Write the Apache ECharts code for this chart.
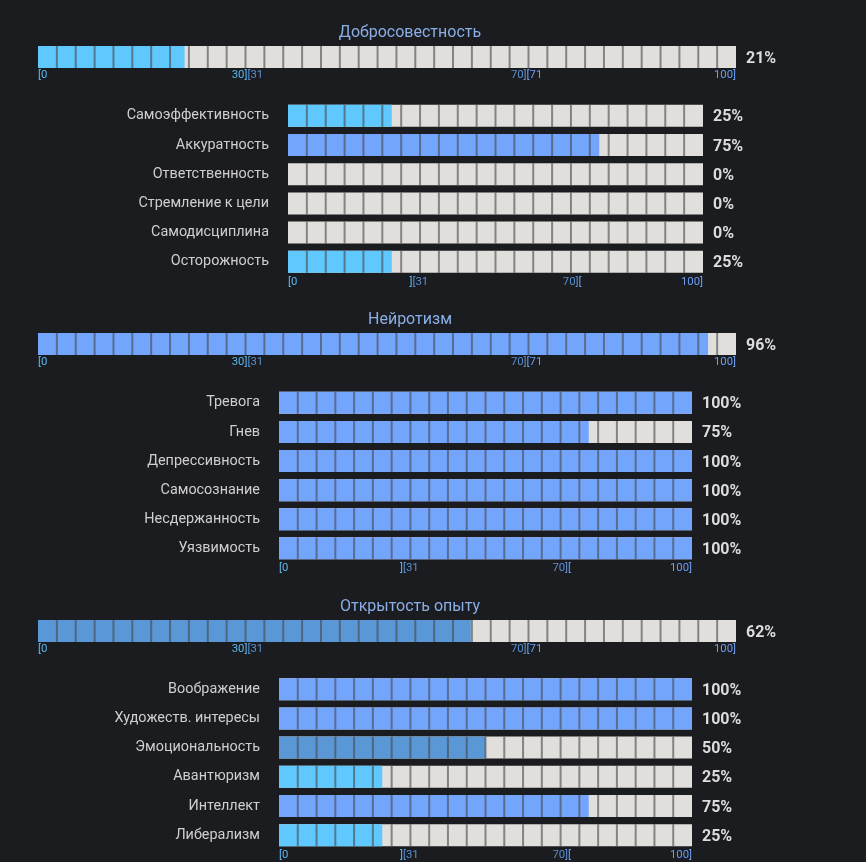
<!DOCTYPE html>
<html>
<head>
<meta charset="utf-8">
<title>Big Five</title>
<script src="https://cdn.jsdelivr.net/npm/echarts@6/dist/echarts.min.js"></script>
<style>
    html, body { margin: 0; padding: 0; background: #1b1c1f; }
    #main { width: 866px; height: 862px; }
</style>
</head>
<body>
<div id="main"></div>
<script>
// данные
var groupTitles = ['Добросовестность', 'Нейротизм', 'Открытость опыту'];
var groupValues = [21, 96, 62];

var cFacets = ['Самоэффективность', 'Аккуратность', 'Ответственность', 'Стремление к цели', 'Самодисциплина', 'Осторожность'];
var cValues = [25, 75, 0, 0, 0, 25];
var nFacets = ['Тревога', 'Гнев', 'Депрессивность', 'Самосознание', 'Несдержанность', 'Уязвимость'];
var nValues = [100, 75, 100, 100, 100, 100];
var oFacets = ['Воображение', 'Художеств. интересы', 'Эмоциональность', 'Авантюризм', 'Интеллект', 'Либерализм'];
var oValues = [100, 100, 50, 25, 75, 25];

// границы диапазонов и подписи под шкалой
var tickValues = [0, 30, 70, 100];
var mainTickEnd = ['', '30]', '70]', '100]'];
var mainTickStart = ['[0', '[31', '[71', ''];
var subTickEnd = ['', ']', '70]', '100]'];
var subTickStart = ['[0', '[31', '[', ''];

var rangeColors = ['#5fc8fe', '#5a97d6', '#74a5fd'];
var tickEndColors = ['#5ab8f0', '#5ab8f0', '#5a90d2', '#6c9ff5'];
var tickStartColors = ['#5ab8f0', '#5a90d2', '#6c9ff5', '#6c9ff5'];

function colorFor(v) {
    if (v <= 30) return rangeColors[0];
    if (v <= 70) return rangeColors[1];
    return rangeColors[2];
}

var myChart = echarts.init(document.getElementById('main'));

var grids = [], xAxes = [], yAxes = [], series = [], titles = [];

// один блок шкалы: grid + две оси для подписей + custom серия
function addBlock(box, cats, values, tickEnd, tickStart, showCats, labelMargin) {
    var gi = grids.length;
    grids.push({ left: box.left, top: box.top, width: box.width, height: box.height });

    function tickAxis(texts, colors, align) {
        return {
            type: 'value', gridIndex: gi, min: 0, max: 100, interval: 10,
            position: 'bottom',
            axisLine: { show: false }, axisTick: { show: false }, splitLine: { show: false },
            axisLabel: {
                align: align, margin: labelMargin, fontSize: 11.3, fontFamily: 'Roboto',
                showMinLabel: true, showMaxLabel: true,
                formatter: function (v) {
                    var i = tickValues.indexOf(Number(v));
                    return i < 0 ? '' : texts[i];
                },
                color: function (v) {
                    var i = tickValues.indexOf(Number(v));
                    return i < 0 ? '#000' : colors[i];
                }
            }
        };
    }
    var xi = xAxes.length;
    xAxes.push(tickAxis(tickEnd, tickEndColors, 'right'));
    xAxes.push(tickAxis(tickStart, tickStartColors, 'left'));

    var yi = yAxes.length;
    yAxes.push({
        type: 'category', gridIndex: gi, data: cats, inverse: true,
        axisLine: { show: false }, axisTick: { show: false }, splitLine: { show: false },
        axisLabel: {
            show: showCats, color: '#cfcfcf', fontSize: 14.4, fontFamily: 'Roboto',
            margin: 19, padding: [3, 0, 0, 0]
        }
    });

    var data = values.map(function (v, i) { return [v, i]; });
    series.push({
        type: 'custom', xAxisIndex: xi, yAxisIndex: yi, data: data,
        encode: { x: 0, y: 1 },
        renderItem: function (params, api) {
            var v = api.value(0);
            var c = api.value(1);
            var p0 = api.coord([0, c]);
            var x1 = api.coord([100, c])[0];
            var xv = api.coord([v, c])[0];
            var h = 22;
            var y = p0[1] - h / 2;
            var w = x1 - p0[0];
            var n = Math.round(w / 19);
            var kids = [
                { type: 'rect', shape: { x: p0[0], y: y, width: w, height: h }, style: { fill: '#e1dfdb' } },
                { type: 'rect', shape: { x: p0[0], y: y, width: xv - p0[0], height: h }, style: { fill: colorFor(v) } }
            ];
            for (var k = 1; k < n; k++) {
                var lx = p0[0] + k * w / n;
                kids.push({
                    type: 'rect', shape: { x: lx - 1, y: y, width: 2, height: h },
                    style: { fill: 'rgba(70,70,70,0.6)' }
                });
            }
            kids.push({
                type: 'text',
                style: {
                    text: v + '%', x: x1 + 10, y: p0[1] + 1.5,
                    fill: '#dcdcdc', font: 'bold 16px Roboto',
                    textAlign: 'left', textVerticalAlign: 'middle'
                }
            });
            return { type: 'group', children: kids };
        }
    });
}

function addTitle(text, barTop) {
    titles.push({
        text: text, left: 410, top: barTop - 21, textAlign: 'center', padding: 0,
        textStyle: { color: '#8aaee6', fontSize: 16, fontWeight: 'normal', fontFamily: 'Roboto' }
    });
}

// Добросовестность
addTitle(groupTitles[0], 46);
addBlock({ left: 38, top: 46, width: 698, height: 22 }, [groupTitles[0]], [groupValues[0]], mainTickEnd, mainTickStart, false, 2);
addBlock({ left: 288, top: 101.2, width: 415, height: 175.2 }, cFacets, cValues, subTickEnd, subTickStart, true, 0);

// Нейротизм
addTitle(groupTitles[1], 333);
addBlock({ left: 38, top: 333, width: 698, height: 22 }, [groupTitles[1]], [groupValues[1]], mainTickEnd, mainTickStart, false, 2);
addBlock({ left: 279, top: 388.3, width: 413, height: 174.6 }, nFacets, nValues, subTickEnd, subTickStart, true, 0);

// Открытость опыту
addTitle(groupTitles[2], 620);
addBlock({ left: 38, top: 620, width: 698, height: 22 }, [groupTitles[2]], [groupValues[2]], mainTickEnd, mainTickStart, false, 2);
addBlock({ left: 279, top: 674.6, width: 413, height: 175.2 }, oFacets, oValues, subTickEnd, subTickStart, true, 0);

var option = {
    backgroundColor: '#1b1c1f',
    animation: false,
    textStyle: { fontFamily: 'Roboto' },
    title: titles,
    grid: grids,
    xAxis: xAxes,
    yAxis: yAxes,
    series: series
};
myChart.setOption(option);
window.addEventListener('resize', function () {
    myChart.resize();
});
</script>
</body>
</html>
